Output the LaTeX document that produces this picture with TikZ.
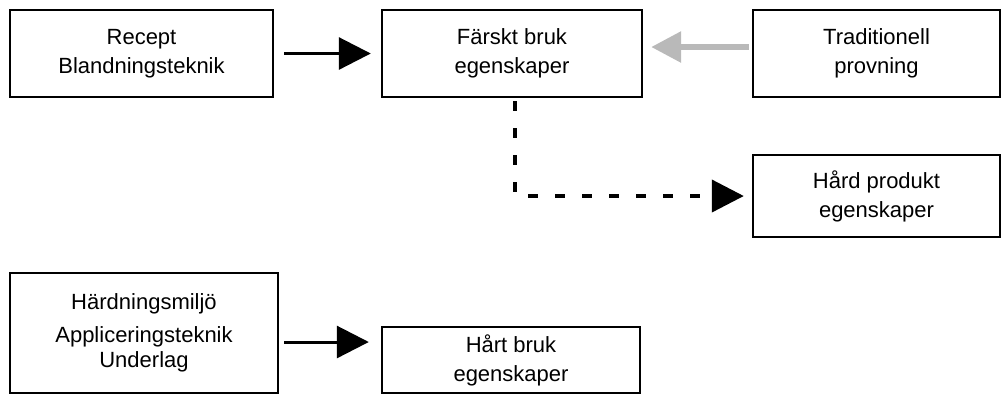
\documentclass[tikz,border=0pt]{standalone}
\usepackage{fontspec}
\setmainfont{Liberation Sans}
\usetikzlibrary{arrows.meta}
\tikzset{
  box/.style={draw, line width=1.2pt, align=center, inner sep=0pt,
    font=\fontsize{11}{14.5}\selectfont},
  flow/.style={line width=1.5pt, -{Triangle[length=16pt,width=16pt]},
    shorten <=5pt, shorten >=5pt},
  test/.style={gray!55, line width=3pt, -{Triangle[length=15pt,width=15pt]},
    shorten <=1.5pt, shorten >=4pt},
  later/.style={line width=2pt, dash pattern=on 5pt off 8.5pt,
    -{Triangle[length=16pt,width=16pt]}, shorten <=1.5pt, shorten >=4pt},
}

\begin{document}
\begin{tikzpicture}[x=0.5pt,y=-0.5pt]
  \useasboundingbox (0,0) rectangle (1004,404);
  % top row
  \node[box, minimum width=131.5pt, minimum height=43.5pt] (recept) at (141.5,53.5) {Recept\\Blandningsteknik};
  \node[box, minimum width=130pt, minimum height=43.5pt] (fresh) at (512,53.5) {Färskt bruk\\egenskaper};
  \node[box, minimum width=123.5pt, minimum height=43.5pt] (trad) at (876.5,53.5) {Traditionell\\provning};
  \node[box, minimum width=123.5pt, minimum height=41pt] (hardprod) at (876.5,196) {Hård produkt\\egenskaper};
  % bottom row
  \node[box, minimum width=134pt, minimum height=60pt] (cure) at (144,333) {Härdningsmiljö\\[2pt]Appliceringsteknik\\[-2pt]Underlag};
  \node[box, minimum width=129pt, minimum height=33pt] (hard) at (511,360) {Hårt bruk\\egenskaper};

  \draw[flow] (recept) -- (fresh);
  \draw[test] (trad.west |- 0,47) -- (fresh.east |- 0,47);
  \draw[later] ([xshift=1.5pt]fresh.south) |- (hardprod.west);
  \draw[flow, shorten <=2.5pt, shorten >=6pt] (cure.east |- 0,342) -- (hard.west |- 0,342);
\end{tikzpicture}
\end{document}
